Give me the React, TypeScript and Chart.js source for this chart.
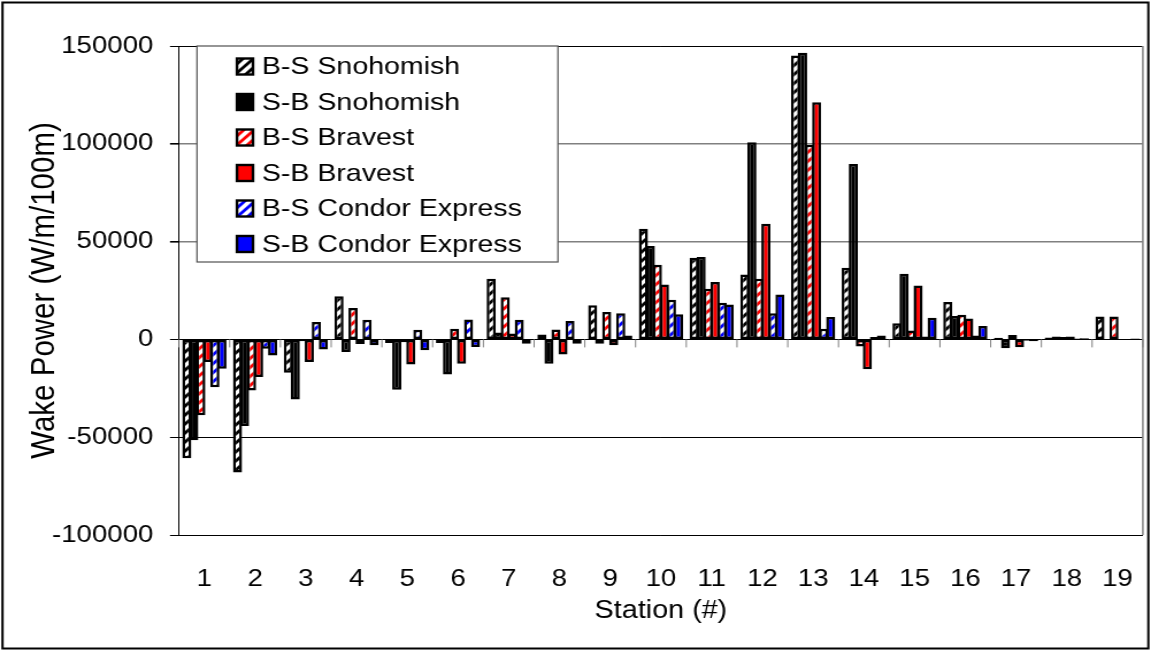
import React, { useEffect, useRef } from 'react';
import { Chart, registerables } from 'chart.js';

Chart.register(...registerables);

// ---------- data ----------
const categories = ['1', '2', '3', '4', '5', '6', '7', '8', '9', '10', '11', '12', '13', '14', '15', '16', '17', '18', '19'];

const seriesLabels = [
  'B-S Snohomish',
  'S-B Snohomish',
  'B-S Bravest',
  'S-B Bravest',
  'B-S Condor Express',
  'S-B Condor Express',
];

const bsSnohomish = [-60800, -68100, -17000, 22100, -1900, -1900, 31000, 2500, 17400, 56600, 41700, 33200, 145100, 36600, 8300, 19100, 800, 1000, 11700];
const sbSnohomish = [-51600, -44300, -30700, -6500, -25700, -17900, 3500, -12400, -2200, 47700, 42100, 100800, 146500, 89700, 33500, 12000, -4500, 1500, 0];
const bsBravest = [-38800, -26100, -1000, 16000, -1500, 5500, 21600, 5100, 14000, 38200, 25900, 31000, 99500, -3600, 4500, 12600, 2200, 1200, 11700];
const sbBravest = [-11600, -19200, -11600, -2300, -12800, -12400, 3000, -7700, -3000, 28100, 29300, 59100, 121300, -15300, 27600, 10700, -4000, 1500, 0];
const bsCondor = [-24400, -4800, 8900, 10000, 4900, 10200, 10100, 9400, 13400, 20300, 18700, 13400, 5400, 1200, 1500, 2000, -700, 500, 0];
const sbCondor = [-15000, -8200, -5100, -3000, -5600, -3900, -2200, -2200, 2000, 12800, 17900, 23000, 11400, 2000, 11100, 6800, -1000, 600, 500];

const yTicks = [-100000, -50000, 0, 50000, 100000, 150000];

const yTitle = 'Wake Power (W/m/100m)';
const xTitle = 'Station (#)';

// ---------- layout ----------
const W = 1151;
const H = 652;
const SX = 1.15; // horizontal stretch of the original rendering
const IW = Math.round(W / SX);
const rx = (v: number) => v / SX; // real px -> internal px

const FONT = "'Liberation Sans', Arial, Helvetica, sans-serif";

const PLOT_L = rx(179);
const PLOT_R = rx(1143);
const PLOT_T = 46;
const PLOT_B = 535;
const PAD_L = 21;
const PAD_B = 26;

function stripePattern(ctx: CanvasRenderingContext2D, color: string) {
  const s = 9;
  const c = document.createElement('canvas');
  c.width = s;
  c.height = s;
  const g = c.getContext('2d')!;
  g.fillStyle = '#ffffff';
  g.fillRect(0, 0, s, s);
  g.strokeStyle = color;
  g.lineWidth = 2.8;
  g.lineCap = 'square';
  g.beginPath();
  g.moveTo(-1, s + 1);
  g.lineTo(s + 1, -1);
  g.moveTo(-2, 2);
  g.lineTo(2, -2);
  g.moveTo(s - 2, s + 2);
  g.lineTo(s + 2, s - 2);
  g.stroke();
  return ctx.createPattern(c, 'repeat') as CanvasPattern;
}

export default function App() {
  const ref = useRef<HTMLCanvasElement | null>(null);

  useEffect(() => {
    const canvas = ref.current;
    if (!canvas) return;
    const ctx = canvas.getContext('2d')!;

    const fills = [
      stripePattern(ctx, '#000000'),
      '#000000',
      stripePattern(ctx, '#ff0000'),
      '#ff0000',
      stripePattern(ctx, '#0000ff'),
      '#0000ff',
    ];
    const values = [bsSnohomish, sbSnohomish, bsBravest, sbBravest, bsCondor, sbCondor];

    const decor = {
      id: 'decor',
      beforeDatasetsDraw(chart: any) {
        const { ctx: c, scales } = chart;
        const xs = scales.x;
        const ys = scales.y;
        const y0 = ys.getPixelForValue(0);
        const half = (xs.getPixelForValue(1) - xs.getPixelForValue(0)) / 2;
        c.save();
        c.strokeStyle = '#808080';
        c.lineWidth = 1;
        c.beginPath();
        for (let i = 0; i <= categories.length; i++) {
          const px = xs.getPixelForValue(i) - half;
          c.moveTo(px, y0);
          c.lineTo(px, y0 + 8);
        }
        c.stroke();
        c.restore();
      },
      afterDraw(chart: any) {
        const { ctx: c, chartArea } = chart;
        c.save();
        // right border of plot
        c.strokeStyle = '#808080';
        c.lineWidth = 1.5;
        c.beginPath();
        c.moveTo(chartArea.right, chartArea.top);
        c.lineTo(chartArea.right, chartArea.bottom);
        c.stroke();

        // legend box
        const lx0 = rx(197);
        const lx1 = rx(558);
        const ly0 = chartArea.top;
        const ly1 = 262;
        c.fillStyle = '#ffffff';
        c.fillRect(lx0, ly0, lx1 - lx0, ly1 - ly0);
        c.strokeStyle = '#505050';
        c.lineWidth = 1.2;
        c.strokeRect(lx0, ly0, lx1 - lx0, ly1 - ly0);

        const ds = chart.data.datasets;
        c.font = `24.8px ${FONT}`;
        c.textBaseline = 'middle';
        c.textAlign = 'left';
        for (let i = 0; i < ds.length; i++) {
          const cy = 66.5 + i * 35.5;
          const sx = rx(237);
          const sw = rx(16);
          const sh = 16;
          c.fillStyle = ds[i].backgroundColor;
          c.fillRect(sx, cy - sh / 2, sw, sh);
          c.strokeStyle = '#000000';
          c.lineWidth = 2.4;
          c.strokeRect(sx, cy - sh / 2, sw, sh);
          c.fillStyle = '#000000';
          c.fillText(ds[i].label, rx(262), cy + 1);
        }

        // outer border
        c.strokeStyle = '#000000';
        c.lineWidth = 2;
        c.strokeRect(rx(2.5), 2.5, rx(1146), 646);
        c.restore();
      },
    };

    const chart = new Chart(canvas, {
      type: 'bar',
      data: {
        labels: categories,
        datasets: seriesLabels.map((label, i) => ({
          label,
          data: values[i],
          backgroundColor: fills[i] as any,
          borderColor: '#000000',
          borderWidth: 2.5,
          borderSkipped: false,
          categoryPercentage: 0.83,
          barPercentage: 1.3,
        })),
      },
      options: {
        responsive: false,
        animation: false,
        devicePixelRatio: 1,
        layout: {
          padding: { left: PAD_L, right: IW - PLOT_R, top: PLOT_T, bottom: PAD_B },
        },
        plugins: {
          legend: { display: false },
          title: { display: false },
          tooltip: { enabled: false },
        },
        scales: {
          x: {
            type: 'category',
            grid: { display: false, drawTicks: false, tickLength: 0 },
            border: { display: false },
            ticks: {
              color: '#000000',
              font: { family: FONT, size: 24 },
              padding: 30,
              maxRotation: 0,
              autoSkip: false,
            },
            title: {
              display: true,
              text: xTitle,
              color: '#000000',
              font: { family: FONT, size: 25 },
              padding: { top: 0, bottom: 0 },
            },
            afterFit: (scale: any) => {
              scale.height = H - PLOT_B - PAD_B;
              scale.paddingLeft = 0;
              scale.paddingRight = 0;
            },
          },
          y: {
            min: yTicks[0],
            max: yTicks[yTicks.length - 1],
            afterBuildTicks: (scale: any) => {
              scale.ticks = yTicks.map((v) => ({ value: v }));
            },
            grid: {
              color: (c: any) => (c.tick && (c.tick.value === 100000 || c.tick.value === 50000) ? '#808080' : '#000000'),
              lineWidth: (c: any) => (c.tick && (c.tick.value === 100000 || c.tick.value === 50000) ? 1.6 : 1),
              tickLength: rx(9),
              tickColor: '#000000',
            },
            border: { display: true, color: '#000000', width: 1 },
            ticks: {
              color: '#000000',
              font: { family: FONT, size: 24 },
              padding: 14.5,
              callback: (v: any) => String(v),
            },
            title: {
              display: true,
              text: yTitle,
              color: '#000000',
              font: { family: FONT, size: 29.5 },
              padding: { top: 0, bottom: 0 },
            },
            afterFit: (scale: any) => {
              scale.width = PLOT_L - PAD_L;
              scale.paddingTop = 0;
              scale.paddingBottom = 0;
            },
          },
        },
      },
      plugins: [decor],
    });

    return () => {
      chart.destroy();
    };
  }, []);

  return (
    <div style={{ position: 'absolute', left: 0, top: 0, width: W, height: H, background: '#ffffff' }}>
      <canvas
        ref={ref}
        width={IW}
        height={H}
        style={{ display: 'block', width: `${W}px`, height: `${H}px` }}
      />
    </div>
  );
}
